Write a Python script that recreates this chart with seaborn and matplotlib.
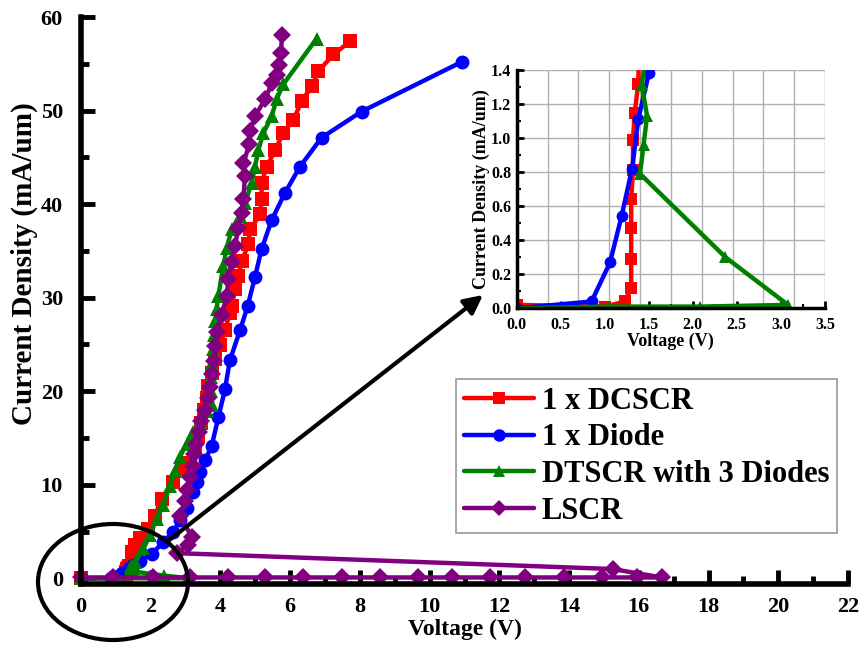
import matplotlib
matplotlib.use("Agg")
import matplotlib.pyplot as plt
import seaborn as sns
import pandas as pd
from matplotlib.patches import Ellipse
from matplotlib.lines import Line2D
from matplotlib.ticker import MultipleLocator

# ---------------- data ----------------
series_names = ["1 x DCSCR", "1 x Diode", "DTSCR with 3 Diodes", "LSCR"]
series_colors = ["#FF0000", "#0000FF", "#008000", "#800080"]
series_markers = ["s", "o", "^", "D"]

dcscr_v = [0.0, 1.0, 1.23, 1.30, 1.30, 1.30, 1.30, 1.32, 1.32, 1.34, 1.38, 1.45, 1.55, 1.69,
           1.93, 2.12, 2.31, 2.65, 2.93, 3.13, 3.28, 3.36, 3.45, 3.53, 3.60, 3.65, 3.75, 3.84,
           3.99, 4.13, 4.27, 4.32, 4.42, 4.51, 4.61, 4.80, 4.85, 5.14, 5.18, 5.18, 5.33, 5.57,
           5.80, 6.09, 6.33, 6.62, 6.81, 7.24, 7.72]
dcscr_i = [0.02, 0.01, 0.04, 0.12, 0.29, 0.47, 0.64, 0.81, 0.99, 1.15, 1.32, 2.8, 3.6, 4.3,
           5.3, 6.7, 8.5, 10.3, 11.7, 12.3, 13.8, 15.2, 16.6, 18.0, 19.3, 20.6, 22.0, 23.4,
           24.9, 26.5, 28.4, 29.1, 30.9, 32.3, 33.9, 35.7, 37.3, 38.9, 40.5, 42.3, 44.0, 45.8,
           47.6, 49.0, 51.0, 52.6, 54.2, 56.0, 57.4]

diode_v = [0.0, 0.85, 1.06, 1.19, 1.31, 1.38, 1.50, 1.69, 2.03, 2.36, 2.65, 2.84, 3.03, 3.22,
           3.32, 3.41, 3.56, 3.75, 3.94, 4.13, 4.27, 4.56, 4.78, 4.99, 5.18, 5.47, 5.85, 6.28,
           6.90, 8.05, 10.92]
diode_i = [0.0, 0.04, 0.27, 0.54, 0.82, 1.11, 1.38, 1.9, 2.6, 3.9, 5.0, 6.2, 7.5, 9.2,
           10.3, 11.4, 12.6, 14.2, 17.2, 20.2, 23.3, 26.5, 29.1, 32.2, 35.2, 38.3, 41.2, 44.0,
           47.1, 49.9, 55.2]

dtscr_v = [0.0, 1.04, 2.08, 3.08, 2.37, 1.40, 1.44, 1.48, 1.42, 1.55, 1.79, 1.98, 2.17, 2.36,
           2.55, 2.70, 2.84, 3.03, 3.22, 3.41, 3.60, 3.77, 3.72, 3.72, 3.75, 3.78, 3.82, 3.85,
           3.89, 3.94, 4.08, 4.18, 4.32, 4.56, 4.70, 4.90, 4.99, 5.09, 5.23, 5.47, 5.61, 5.80,
           6.76]
dtscr_i = [0.0, 0.01, 0.01, 0.02, 0.30, 0.79, 0.96, 1.13, 1.31, 1.8, 3.2, 4.6, 6.4, 7.8,
           9.9, 11.5, 13.0, 14.4, 15.6, 16.7, 17.9, 18.5, 20.0, 21.5, 23.0, 24.5, 26.0, 27.5,
           28.8, 30.2, 33.4, 35.3, 37.3, 38.7, 40.1, 42.3, 44.0, 45.8, 47.6, 49.4, 51.2, 52.8,
           57.7]

lscr_v = [0.0, 0.92, 2.07, 3.13, 4.23, 5.28, 6.38, 7.50, 8.58, 9.68, 10.63, 11.73, 12.74,
          13.84, 14.94, 15.94, 16.66, 15.25, 2.74, 3.08, 3.18, 2.84, 2.98, 3.05, 3.12, 3.22,
          3.25, 3.30, 3.38, 3.45, 3.55, 3.65, 3.70, 3.75, 3.82, 3.85, 3.89, 4.04, 4.18, 4.23,
          4.32, 4.42, 4.51, 4.61, 4.66, 4.70, 4.66, 4.83, 4.85, 4.99, 5.28, 5.47, 5.61, 5.68,
          5.74, 5.76]
lscr_i = [0.1, 0.1, 0.1, 0.1, 0.1, 0.1, 0.1, 0.1, 0.1, 0.1, 0.1, 0.1, 0.1,
          0.1, 0.1, 0.1, 0.1, 1.0, 2.7, 3.6, 4.4, 6.7, 8.3, 9.5, 10.8, 12.0,
          13.3, 14.4, 15.6, 16.8, 18.0, 19.3, 20.5, 21.8, 23.2, 24.8, 26.3, 28.2, 30.2, 32.0,
          33.8, 35.5, 37.5, 39.1, 40.5, 43.0, 44.4, 46.4, 47.8, 49.4, 51.2, 52.9, 53.8, 54.9,
          56.1, 58.1]

xticks_main = list(range(0, 23, 2))
yticks_main = list(range(0, 61, 10))
xticks_inset = [0.0, 0.5, 1.0, 1.5, 2.0, 2.5, 3.0, 3.5]
yticks_inset = [0.0, 0.2, 0.4, 0.6, 0.8, 1.0, 1.2, 1.4]

all_v = [dcscr_v, diode_v, dtscr_v, lscr_v]
all_i = [dcscr_i, diode_i, dtscr_i, lscr_i]

# ---------------- figure ----------------
sns.set_theme(style="white")
plt.rcParams["font.family"] = ["Liberation Serif", "DejaVu Serif"]
plt.rcParams["font.weight"] = "bold"
plt.rcParams["text.color"] = "black"
plt.rcParams["axes.labelcolor"] = "black"
plt.rcParams["xtick.color"] = "black"
plt.rcParams["ytick.color"] = "black"

W, H = 867, 656
fig = plt.figure(figsize=(W / 100, H / 100), dpi=100)

def fx(px):
    return px / W

def fy(py):
    return 1 - py / H

ax = fig.add_axes([fx(81), fy(584), fx(848) - fx(81), fy(17) - fy(584)])

for name, color, mk, v, i in zip(series_names, series_colors, series_markers, all_v, all_i):
    df = pd.DataFrame({"V": v, "I": i})
    sns.lineplot(data=df, x="V", y="I", ax=ax, sort=False, estimator=None, color=color,
                 marker=mk, markersize=10 if mk != "D" else 9, markeredgewidth=0,
                 linewidth=3.2, clip_on=False, legend=False)

ax.set_xlim(0, 22)
ax.set_ylim(-0.6, 60)
ax.set_xticks(xticks_main)
ax.set_yticks(yticks_main)
ax.xaxis.set_minor_locator(MultipleLocator(1))
ax.yaxis.set_minor_locator(MultipleLocator(5))
for s in ["top", "right"]:
    ax.spines[s].set_visible(False)
for s in ["left", "bottom"]:
    ax.spines[s].set_linewidth(4)
    ax.spines[s].set_color("black")
ax.tick_params(axis="both", which="major", direction="in", length=10, width=3.5,
               labelsize=16, colors="black")
ax.tick_params(axis="x", which="major", pad=9)
ax.tick_params(axis="y", which="major", pad=13)
ax.tick_params(axis="both", which="minor", direction="in", length=6, width=3.5, colors="black")
ax.tick_params(axis="both", which="both", bottom=True, left=True)
for lab in ax.get_xticklabels() + ax.get_yticklabels():
    lab.set_fontweight("bold")
ax.set_xlabel("Voltage (V)", fontsize=17, fontweight="bold", labelpad=2)
ax.set_ylabel("Current Density (mA/um)", fontsize=21, fontweight="bold")
ax.yaxis.set_label_coords(-0.056, 0.565)

# legend
handles = [Line2D([0], [0], color=c, marker=m, linewidth=3.2, markersize=9 if m != "D" else 8,
                  markeredgewidth=0)
           for c, m in zip(series_colors, series_markers)]
leg = ax.legend(handles, series_names, loc="upper left",
                bbox_to_anchor=((456 - 81) / 767, (584 - 379) / 567),
                prop={"family": "Liberation Serif", "weight": "bold", "size": 22},
                frameon=True, fancybox=False, handlelength=2.3, handletextpad=0.25,
                labelspacing=0.25, borderpad=0.25, borderaxespad=0)
leg.get_frame().set_edgecolor("#808080")
leg.get_frame().set_linewidth(1.2)

# ellipse and arrow
ell = Ellipse((fx(113), fy(582)), 150 / W, 116 / H, transform=fig.transFigure,
              fill=False, edgecolor="black", linewidth=3, clip_on=False)
fig.patches.append(ell)
ax.annotate("", xy=(fx(483), fy(295)), xytext=(fx(168), fy(541)),
            xycoords="figure fraction", textcoords="figure fraction",
            arrowprops=dict(arrowstyle="-|>", color="black", lw=3, mutation_scale=28,
                            shrinkA=0, shrinkB=0))

# ---------------- inset ----------------
axi = fig.add_axes([fx(516.7), fy(308.3), fx(825) - fx(516.7), fy(70) - fy(308.3)])
for name, color, mk, v, i in zip(series_names[:3], series_colors[:3], series_markers[:3],
                                 all_v[:3], all_i[:3]):
    df = pd.DataFrame({"V": v, "I": i})
    sns.lineplot(data=df, x="V", y="I", ax=axi, sort=False, estimator=None, color=color,
                 marker=mk, markersize=8.5, markeredgewidth=0, linewidth=3.2, legend=False)
axi.set_xlim(0, 3.5)
axi.set_ylim(0, 1.4)
axi.set_xticks(xticks_inset)
axi.set_yticks(yticks_inset)
axi.set_xticklabels([f"{t:.1f}" for t in xticks_inset])
axi.set_yticklabels([f"{t:.1f}" for t in yticks_inset])
axi.xaxis.set_minor_locator(MultipleLocator(0.25))
axi.yaxis.set_minor_locator(MultipleLocator(0.1))
axi.set_axisbelow(True)
for gx in [0.35 * k for k in range(1, 11)]:
    axi.axvline(gx, color="#b0b0b0", linewidth=1.0, zorder=0)
for gy in yticks_inset[1:]:
    axi.axhline(gy, color="#b0b0b0", linewidth=1.0, zorder=0)
for s in ["top", "right"]:
    axi.spines[s].set_visible(False)
for s in ["left", "bottom"]:
    axi.spines[s].set_linewidth(2.5)
    axi.spines[s].set_color("black")
axi.tick_params(axis="both", which="major", direction="in", length=5, width=2,
                labelsize=11.5, colors="black")
axi.tick_params(axis="x", which="major", pad=6)
axi.tick_params(axis="y", which="major", pad=4)
axi.tick_params(axis="both", which="minor", direction="in", length=3, width=1.5, colors="black")
axi.tick_params(axis="both", which="both", bottom=True, left=True)
for lab in axi.get_xticklabels() + axi.get_yticklabels():
    lab.set_fontweight("bold")
axi.set_xlabel("Voltage (V)", fontsize=13, fontweight="bold", labelpad=0)
axi.set_ylabel("Current Density (mA/um)", fontsize=13, fontweight="bold", labelpad=1)

fig.savefig("out.png", dpi=100)
